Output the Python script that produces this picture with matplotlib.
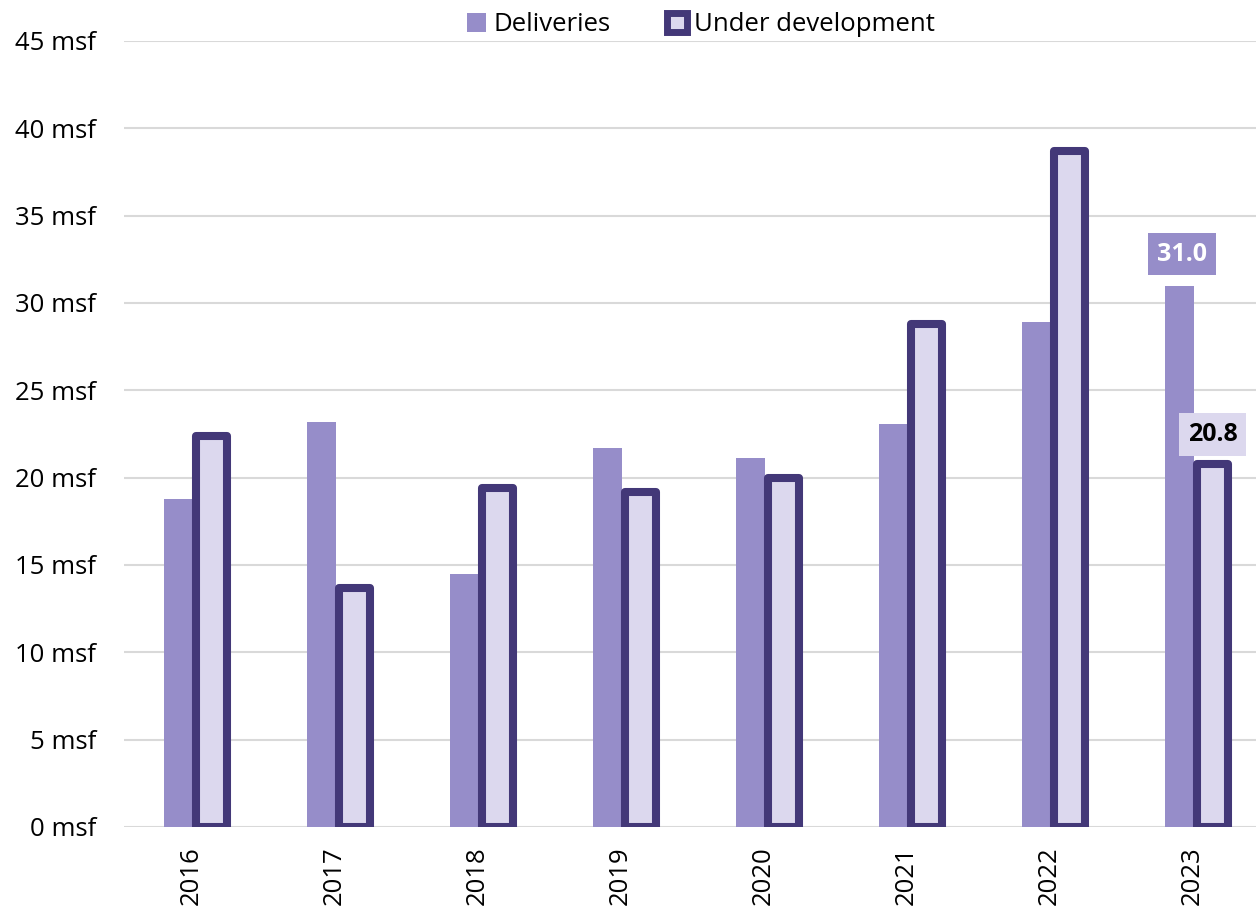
import numpy as np
import matplotlib.pyplot as plt
from matplotlib.patches import Patch

years = ["2016", "2017", "2018", "2019", "2020", "2021", "2022", "2023"]
deliveries = [18.8, 23.2, 14.5, 21.7, 21.1, 23.1, 28.9, 31.0]
under_dev = [22.4, 13.7, 19.4, 19.2, 20.0, 28.8, 38.7, 20.8]
yticks = [0, 5, 10, 15, 20, 25, 30, 35, 40, 45]

c_deliv = "#968dc9"
c_dev_fill = "#dcd8ee"
c_dev_edge = "#433878"

plt.rcParams['font.family'] = ['Open Sans', 'DejaVu Sans']

fig = plt.figure(figsize=(12.56, 9.10), dpi=100)
ax = fig.add_axes([124/1256, 83/910, 1 - 124/1256, 786/910])

x = np.arange(len(years))
ax.bar(x - 0.133, deliveries, width=0.203, color=c_deliv, zorder=2)
ax.bar(x + 0.096, under_dev, width=0.217, color=c_dev_fill, edgecolor=c_dev_edge,
       linewidth=5.8, joinstyle="round", zorder=3)

# labels on last year
ax.text(x[-1] - 0.119, deliveries[-1] + 1.8, "%.1f" % deliveries[-1], ha="center", va="center",
        fontsize=18, fontweight="bold", color="white",
        bbox=dict(boxstyle="square,pad=0.35", fc=c_deliv, ec="none"), zorder=4)
ax.text(x[-1] + 0.096, under_dev[-1] + 1.67, "%.1f" % under_dev[-1], ha="center", va="center",
        fontsize=18, fontweight="bold", color="black",
        bbox=dict(boxstyle="square,pad=0.35", fc=c_dev_fill, ec="none"), zorder=4)

ax.set_xlim(-0.514, 7.40)
ax.set_ylim(0, 45)
ax.set_yticks(yticks)
ax.set_yticklabels(["%d msf" % v for v in yticks], fontsize=18.5)
ax.set_xticks(x - 0.045)
ax.set_xticklabels(years, rotation=90, fontsize=18.5)
ax.tick_params(axis="both", length=0)
ax.tick_params(axis="x", pad=14)
ax.tick_params(axis="y", pad=20)
ax.yaxis.grid(True, color="#d9d9d9", linewidth=1.5, zorder=0)
ax.set_axisbelow(True)
for s in ax.spines.values():
    s.set_visible(False)
ax.axhline(0, color="#d9d9d9", linewidth=2, zorder=1)

handles = [Patch(facecolor=c_deliv, edgecolor="none", label="Deliveries"),
           Patch(facecolor=c_dev_fill, edgecolor=c_dev_edge, linewidth=5, label="Under development")]
fig.legend(handles=handles, loc="upper center", bbox_to_anchor=(0.558, 1.012), ncol=2, frameon=False,
           fontsize=18.5, handlelength=0.75, handleheight=0.75, handletextpad=0.3, columnspacing=2.2)

fig.savefig("out.png", dpi=100)
